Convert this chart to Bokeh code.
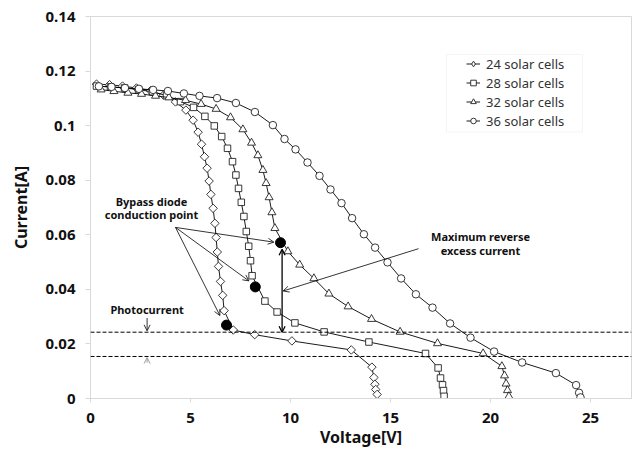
from bokeh.plotting import figure
from bokeh.models import (Range1d, FixedTicker, Span, Arrow, OpenHead, Label,
                          Legend, LegendItem, BoxAnnotation)
from bokeh.embed import file_html
from bokeh.resources import INLINE
import math

# ---------------- data ----------------
series_names = ["24 solar cells", "28 solar cells", "32 solar cells", "36 solar cells"]

v24 = [0.3, 0.95, 1.6, 2.3, 3.0, 3.65, 4.25, 4.77, 5.13, 5.38, 5.55, 5.7, 5.83, 5.93, 6.02, 6.13,
       6.22, 6.28, 6.34, 6.4, 6.5, 6.61, 6.68, 7.14, 8.21, 10.07, 13.04, 14.07, 14.17, 14.22, 14.26, 14.33]
i24 = [0.1152, 0.1150, 0.1145, 0.1138, 0.1128, 0.1112, 0.1087, 0.1057, 0.1020, 0.0976, 0.0932, 0.0886,
       0.0844, 0.0797, 0.0748, 0.0697, 0.0642, 0.0590, 0.0537, 0.0484, 0.0429, 0.0378, 0.0322, 0.0251,
       0.0234, 0.0211, 0.0178, 0.0115, 0.0077, 0.0052, 0.0033, 0.0015]

v28 = [0.3, 1.0, 1.7, 2.4, 3.1, 3.8, 4.5, 5.15, 5.72, 6.19, 6.56, 6.85, 7.1, 7.27, 7.4, 7.54, 7.67, 7.79,
       7.91, 8.0, 8.08, 8.72, 9.33, 10.22, 11.68, 13.92, 16.75, 17.38, 17.5, 17.6, 17.65, 17.68]
i28 = [0.1145, 0.1142, 0.1138, 0.1132, 0.1124, 0.1110, 0.1088, 0.1067, 0.1034, 0.0999, 0.0960, 0.0917,
       0.0868, 0.0819, 0.0770, 0.0719, 0.0667, 0.0612, 0.0558, 0.0505, 0.0450, 0.0357, 0.0317, 0.0277,
       0.0244, 0.0207, 0.0165, 0.0112, 0.0075, 0.0050, 0.0029, 0.0008]

v32 = [0.53, 1.17, 1.87, 2.55, 3.25, 3.92, 4.75, 5.53, 6.28, 7.0, 7.62, 8.05, 8.37, 8.62, 8.78, 8.93,
       9.07, 9.22, 9.87, 10.46, 11.17, 11.92, 12.88, 14.05, 15.48, 17.35, 19.63, 20.57, 20.7, 20.78, 20.85, 20.92]
i32 = [0.1132, 0.1126, 0.1120, 0.1116, 0.1109, 0.1103, 0.1093, 0.1079, 0.1061, 0.1030, 0.0986, 0.0937,
       0.0891, 0.0837, 0.0789, 0.0737, 0.0682, 0.0624, 0.0539, 0.0490, 0.0440, 0.0384, 0.0337, 0.0291,
       0.0244, 0.0202, 0.0165, 0.0118, 0.0084, 0.0054, 0.0030, 0.0008]

v36 = [0.42, 1.05, 1.72, 2.42, 3.13, 3.87, 4.67, 5.45, 6.33, 7.27, 8.22, 9.12, 9.7, 10.25, 10.85, 11.45,
       12.0, 12.55, 13.08, 13.67, 14.23, 14.85, 15.53, 16.27, 17.1, 17.98, 19.0, 20.18, 21.58, 23.27,
       24.28, 24.43, 24.5]
i36 = [0.1144, 0.1142, 0.1138, 0.1135, 0.1131, 0.1127, 0.1118, 0.1109, 0.1101, 0.1083, 0.1050, 0.1002,
       0.0951, 0.0913, 0.0865, 0.0816, 0.0766, 0.0716, 0.0661, 0.0602, 0.0553, 0.0499, 0.0440, 0.0382,
       0.0333, 0.0275, 0.0223, 0.0172, 0.0132, 0.0093, 0.0049, 0.0021, 0.0004]

# bypass diode conduction points (24, 28, 32 cells)
cond_v = [6.8, 8.24, 9.5]
cond_i = [0.0269, 0.0409, 0.0571]

# reference current levels (dashed lines)
photo_levels = [0.0243, 0.0154]

x_ticks = [0, 5, 10, 15, 20, 25]
y_ticks = [0, 0.02, 0.04, 0.06, 0.08, 0.1, 0.12, 0.14]
y_tick_labels = ["0", "0.02", "0.04", "0.06", "0.08", "0.1", "0.12", "0.14"]

FONT = "Noto Sans"

p = figure(width=634, height=450, output_backend="svg", toolbar_location=None,
           x_range=Range1d(0, 27.05), y_range=Range1d(0, 0.14),
           min_border_left=90, min_border_right=3, min_border_top=16, min_border_bottom=50)
p.background_fill_color = "white"
p.border_fill_color = "white"
p.outline_line_color = "#d9d9d9"
p.xgrid.visible = False
p.ygrid.visible = False

for ax in (p.xaxis[0], p.yaxis[0]):
    ax.axis_line_color = "#d9d9d9"
    ax.major_tick_line_color = "#d9d9d9"
    ax.minor_tick_line_color = None
    ax.major_tick_in = 0
    ax.major_tick_out = 5
    ax.major_label_text_font = FONT
    ax.major_label_text_font_style = "bold"
    ax.major_label_text_font_size = "15px"
    ax.major_label_text_color = "#111111"
    ax.axis_label_text_font = FONT
    ax.axis_label_text_font_style = "bold"
    ax.axis_label_text_font_size = "16px"
    ax.axis_label_text_color = "#111111"

p.xaxis.ticker = FixedTicker(ticks=x_ticks)
p.yaxis.ticker = FixedTicker(ticks=y_ticks)
p.yaxis.major_label_overrides = {t: l for t, l in zip(y_ticks, y_tick_labels)}
p.xaxis.axis_label = "Voltage[V]"
p.yaxis.axis_label = "Current[A]"
p.xaxis.major_tick_out = 4
p.xaxis.major_label_standoff = 10
p.xaxis.axis_label_standoff = 0
p.yaxis.major_label_standoff = 10
p.yaxis.axis_label_standoff = 11

# dashed reference lines
for lvl in photo_levels:
    p.add_layout(Span(location=lvl, dimension="width", line_color="black",
                      line_dash="4 2", line_width=1))

# series
items = []
specs = [
    (v24, i24, "square", 6, math.pi / 4, "diamond", 10),
    (v28, i28, "square", 6.5, 0, "square", 6.5),
    (v32, i32, "triangle", 8, 0, "triangle", 8),
    (v36, i36, "circle", 7.5, 0, "circle", 7.5),
]
for (vx, iy, marker, size, ang, lmarker, lsize), name in zip(specs, series_names):
    lr = p.line(vx, iy, line_color="black", line_width=0.9)
    sr = p.scatter(vx, iy, marker=marker, size=size, angle=ang, fill_color="white",
                   line_color="#222222", line_width=0.9)
    # legend-only glyph (hidden on the plot)
    lg = p.scatter(vx, iy, marker=lmarker, size=lsize, fill_color="white",
                   line_color="#222222", line_width=0.9, visible=False)
    items.append(LegendItem(label=name, renderers=[lr, lg]))

# conduction points
p.scatter(cond_v, cond_i, marker="circle", size=10, fill_color="black", line_color="black")

# legend box
p.add_layout(BoxAnnotation(left=17.8, right=24.6, bottom=0.0977, top=0.1261,
                           fill_alpha=0, line_color="#d9d9d9", line_width=1))
legend = Legend(items=items, location=(374, 266), padding=2, spacing=0,
                glyph_width=14, glyph_height=19, label_height=19, label_standoff=6,
                label_text_font=FONT, label_text_font_size="13px", label_text_color="#333333",
                border_line_alpha=0, background_fill_alpha=0, margin=0)
p.add_layout(legend, "center")

# annotations
def txt(x, y, s, size="11px"):
    p.add_layout(Label(x=x, y=y, text=s, text_font=FONT, text_font_style="bold",
                       text_font_size=size, text_align="center", text_baseline="middle",
                       text_color="#111111"))

def arrow(x0, y0, x1, y1, color="black", start=False, w=0.8):
    p.add_layout(Arrow(x_start=x0, y_start=y0, x_end=x1, y_end=y1,
                       line_color=color, line_width=w,
                       end=OpenHead(size=6, line_color=color, line_width=w),
                       start=OpenHead(size=6, line_color=color, line_width=w) if start else None))

txt(3.05, 0.0722, "Bypass diode")
txt(3.05, 0.0674, "conduction point")
arrow(4.25, 0.0627, 9.17, 0.0573)
arrow(4.25, 0.0627, 7.92, 0.0431)
arrow(4.25, 0.0627, 6.47, 0.0304)

arrow(9.58, 0.0243, 9.58, 0.0547, start=True, w=1.3)

txt(19.5, 0.0593, "Maximum reverse")
txt(19.5, 0.0543, "excess current")
arrow(16.4, 0.0549, 9.63, 0.0394)

txt(2.83, 0.0328, "Photocurrent")
arrow(2.83, 0.0295, 2.83, 0.0248)
arrow(2.83, 0.0131, 2.83, 0.0150, color="#888888")

open("out.html", "w").write(file_html(p, INLINE))
